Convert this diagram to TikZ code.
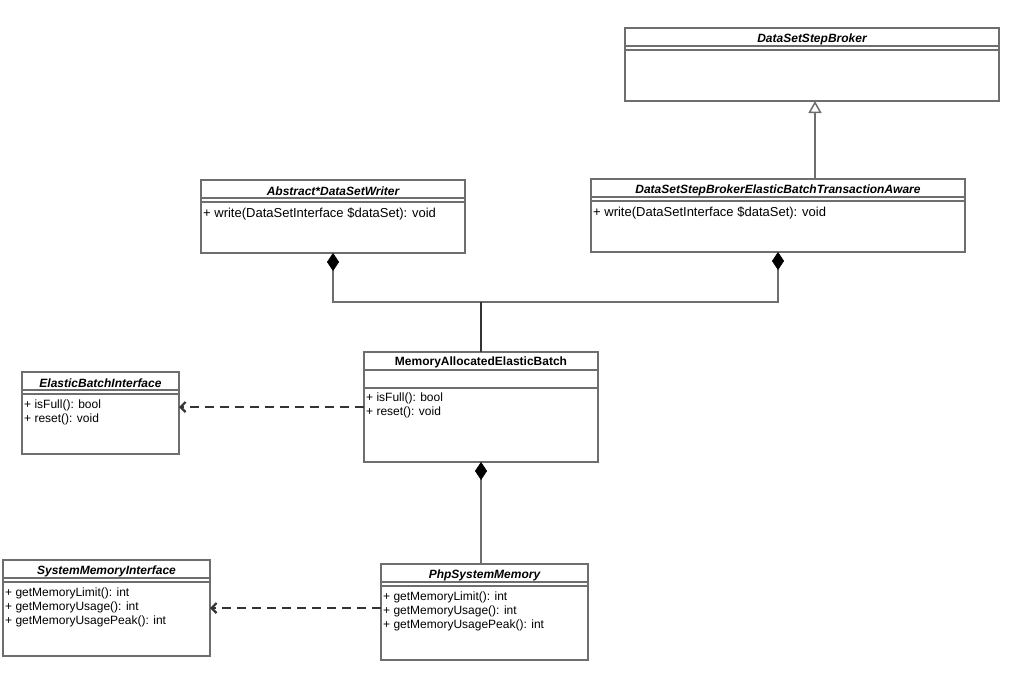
\documentclass[tikz,border=0pt]{standalone}
\usepackage{fontspec}
\setmainfont{Liberation Sans}
\usetikzlibrary{arrows.meta,calc}
\definecolor{boxc}{RGB}{110,110,110}
\definecolor{darkc}{RGB}{51,51,51}
\begin{document}
\begin{tikzpicture}[x=1pt,y=-1pt,
  umlbox/.style={draw=boxc,line width=2pt,anchor=north west,inner sep=0pt,outer sep=0pt,fill=white},
  sep/.style={draw=boxc,line width=1.6pt},
  ttl/.style={font=\fontsize{12}{14}\selectfont\bfseries\itshape,inner sep=0pt},
  ttlb/.style={font=\fontsize{12}{14}\selectfont\bfseries,inner sep=0pt},
  methA/.style={font=\fontsize{13}{15}\selectfont,anchor=west,inner sep=0pt},
  methB/.style={font=\fontsize{12}{14}\selectfont,anchor=west,inner sep=0pt},
  conn/.style={draw=boxc,line width=1.8pt},
  comp/.style={conn,{Diamond[length=18pt,width=12pt,fill=black,color=black,line width=0.5pt]}-},
  real/.style={draw=darkc,line width=2pt,dash pattern=on 9pt off 6pt,-{Straight Barb[length=5pt,width=10pt,line width=2.2pt]}}
]
\useasboundingbox (0,0) rectangle (1021,680);

% DataSetStepBroker
\node[umlbox,minimum width=374pt,minimum height=73pt] (dsb) at (625,28) {};
\draw[sep] ($(dsb.north west)+(0,18)$) -- ($(dsb.north east)+(0,18)$);
\draw[sep] ($(dsb.north west)+(0,22)$) -- ($(dsb.north east)+(0,22)$);
\node[ttl] at ($(dsb.north)+(0,11.5)$) {DataSetStepBroker};

% Abstract*DataSetWriter
\node[umlbox,minimum width=264pt,minimum height=73pt] (abs) at (201,180) {};
\draw[sep] ($(abs.north west)+(0,18)$) -- ($(abs.north east)+(0,18)$);
\draw[sep] ($(abs.north west)+(0,22)$) -- ($(abs.north east)+(0,22)$);
\node[ttl] at ($(abs.north)+(0,11.5)$) {Abstract*DataSetWriter};
\node[methA] at ($(abs.north west)+(2,34)$) {+ write(DataSetInterface \$dataSet): void};

% DataSetStepBrokerElasticBatchTransactionAware
\node[umlbox,minimum width=374pt,minimum height=73pt] (dsbe) at (591,179) {};
\draw[sep] ($(dsbe.north west)+(0,18)$) -- ($(dsbe.north east)+(0,18)$);
\draw[sep] ($(dsbe.north west)+(0,22)$) -- ($(dsbe.north east)+(0,22)$);
\node[ttl] at ($(dsbe.north)+(0,11.5)$) {DataSetStepBrokerElasticBatchTransactionAware};
\node[methA] at ($(dsbe.north west)+(2,34)$) {+ write(DataSetInterface \$dataSet): void};

% MemoryAllocatedElasticBatch
\node[umlbox,minimum width=234pt,minimum height=110pt] (maeb) at (364,352) {};
\draw[sep] ($(maeb.north west)+(0,18)$) -- ($(maeb.north east)+(0,18)$);
\draw[sep] ($(maeb.north west)+(0,36)$) -- ($(maeb.north east)+(0,36)$);
\node[ttlb] at ($(maeb.north)+(0,10.5)$) {MemoryAllocatedElasticBatch};
\node[methB] at ($(maeb.north west)+(2,46.5)$) {+ isFull(): bool};
\node[methB] at ($(maeb.north west)+(2,60.5)$) {+ reset(): void};

% ElasticBatchInterface
\node[umlbox,minimum width=157pt,minimum height=82pt] (ebi) at (22,372) {};
\draw[sep] ($(ebi.north west)+(0,18)$) -- ($(ebi.north east)+(0,18)$);
\draw[sep] ($(ebi.north west)+(0,22)$) -- ($(ebi.north east)+(0,22)$);
\node[ttl] at ($(ebi.north)+(0,11.5)$) {ElasticBatchInterface};
\node[methB] at ($(ebi.north west)+(2,33.5)$) {+ isFull(): bool};
\node[methB] at ($(ebi.north west)+(2,47.5)$) {+ reset(): void};

% SystemMemoryInterface
\node[umlbox,minimum width=207pt,minimum height=96pt] (smi) at (3,560) {};
\draw[sep] ($(smi.north west)+(0,18)$) -- ($(smi.north east)+(0,18)$);
\draw[sep] ($(smi.north west)+(0,22)$) -- ($(smi.north east)+(0,22)$);
\node[ttl] at ($(smi.north)+(0,11.5)$) {SystemMemoryInterface};
\node[methB] at ($(smi.north west)+(2,33.5)$) {+ getMemoryLimit(): int};
\node[methB] at ($(smi.north west)+(2,47.5)$) {+ getMemoryUsage(): int};
\node[methB] at ($(smi.north west)+(2,61.5)$) {+ getMemoryUsagePeak(): int};

% PhpSystemMemory
\node[umlbox,minimum width=207pt,minimum height=96pt] (php) at (381,564) {};
\draw[sep] ($(php.north west)+(0,18)$) -- ($(php.north east)+(0,18)$);
\draw[sep] ($(php.north west)+(0,22)$) -- ($(php.north east)+(0,22)$);
\node[ttl] at ($(php.north)+(0,11.5)$) {PhpSystemMemory};
\node[methB] at ($(php.north west)+(2,33.5)$) {+ getMemoryLimit(): int};
\node[methB] at ($(php.north west)+(2,47.5)$) {+ getMemoryUsage(): int};
\node[methB] at ($(php.north west)+(2,61.5)$) {+ getMemoryUsagePeak(): int};

% connectors
\coordinate (junc) at (481,302);
\coordinate (phpw) at ($(php.north west)+(0,44)$);
\draw[conn,-{Triangle[open,length=12pt,width=13pt,fill=white,line width=1.5pt]}] (dsbe.north -| 815,0) -- (dsb.south -| 815,0);
\draw[comp] (abs.south -| 333,0) |- (junc);
\draw[comp] (dsbe.south -| 778,0) |- (junc);
\draw[draw=darkc,line width=2pt] (junc) -- (maeb.north -| junc);
\draw[comp] (maeb.south) -- (php.north -| maeb.south);
\draw[real] (maeb.west) -- (ebi.east |- maeb.west);
\draw[real] (phpw) -- (smi.east |- phpw);
\end{tikzpicture}
\end{document}
